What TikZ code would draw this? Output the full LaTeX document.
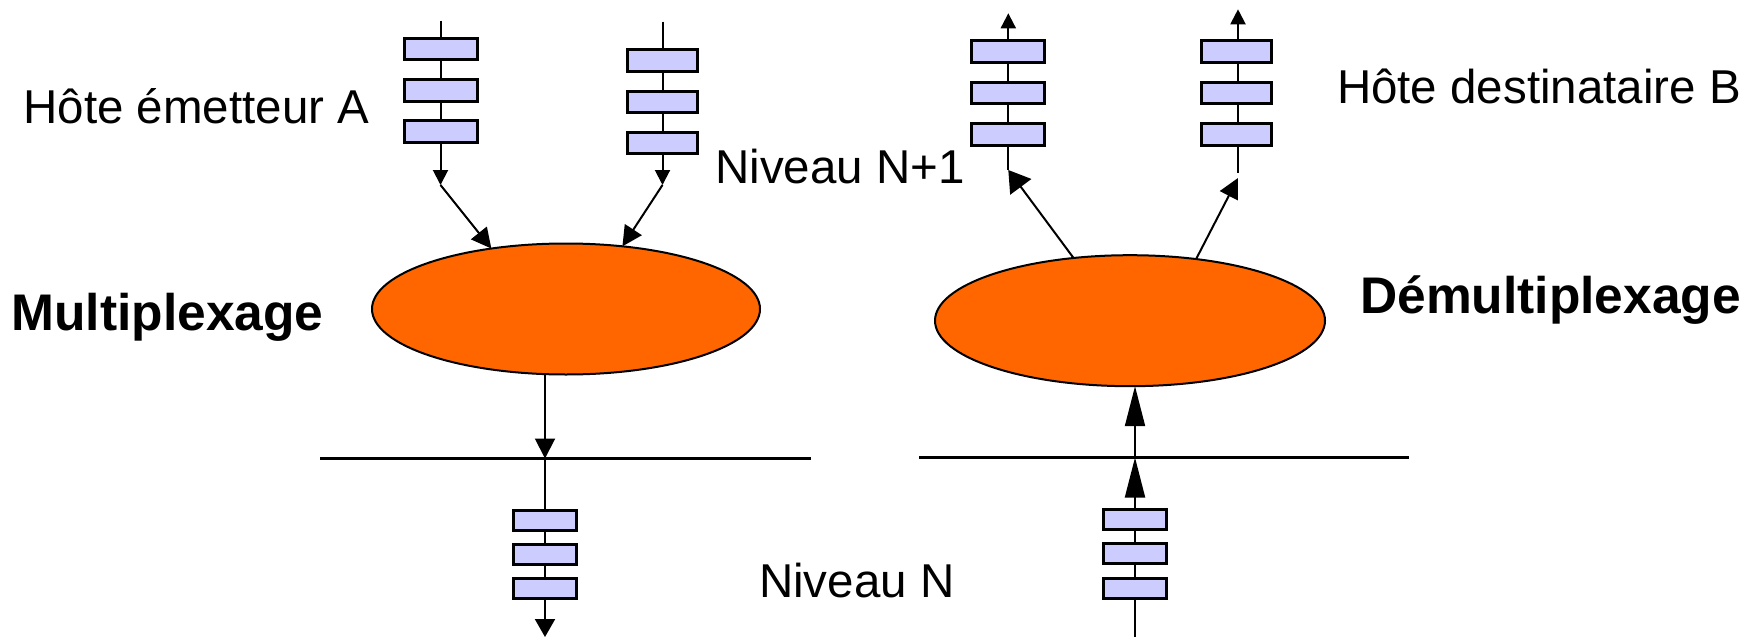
\documentclass[tikz,border=0pt]{standalone}
\usepackage{fontspec}
\setmainfont{Liberation Sans}
\usetikzlibrary{arrows.meta,shapes.geometric}
\definecolor{pktfill}{HTML}{CCCCFF}
\definecolor{blobfill}{HTML}{FF6600}
\begin{document}
\begin{tikzpicture}[x=1pt,y=-1pt,
  pkt/.style={draw,line width=3pt,fill=pktfill,inner sep=0pt,outer sep=0pt,
              minimum width=73pt,minimum height=21.5pt},
  pktn/.style={pkt,minimum width=70.5pt},
  pkts/.style={pkt,minimum width=62.5pt,minimum height=20pt},
  blob/.style={ellipse,draw,line width=2pt,fill=blobfill,inner sep=0pt,outer sep=0pt},
  wire/.style={line width=2pt},
  tipS/.style={-{Triangle[length=15pt,width=15pt]}},
  tipM/.style={-{Triangle[length=20pt,width=20pt]}},
  tipW/.style={-{Triangle[length=21pt,width=26pt]}},
  tipL/.style={-{Triangle[length=40pt,width=20pt]}},
  lbl/.style={inner sep=0pt,anchor=base,font=\fontsize{47.5}{52}\selectfont},
  ttl/.style={inner sep=0pt,anchor=base,font=\fontsize{51.5}{56}\selectfont\bfseries},
  level/.style={line width=3pt}
]
\useasboundingbox (0,0) rectangle (1756,637);

% multiplexing and demultiplexing entities
\node[blob,minimum width=388pt,minimum height=131pt] (mux) at (566,309) {};
\node[blob,minimum width=390pt,minimum height=131pt] (demux) at (1130,320.7) {};

% layer boundaries
\coordinate (nl1) at (320,458.5);
\coordinate (nl2) at (811,458.5);
\coordinate (nr1) at (919,457.5);
\coordinate (nr2) at (1409,457.5);
\draw[level] (nl1) -- (nl2);
\draw[level] (nr1) -- (nr2);

% sender A, first flow
\coordinate (a1top) at (440.5,20.7);
\node[pkt] (a1p1) at (440.5,49.2) {};
\node[pkt] (a1p2) at (440.5,90.4) {};
\node[pkt] (a1p3) at (440.5,131.7) {};
\coordinate (a1k) at (440.5,185);
\draw[wire] (a1top) -- (a1p1) -- (a1p2) -- (a1p3);
\draw[wire,tipS] (a1p3) -- (a1k);
\draw[wire,tipM] (a1k) -- (mux.141);

% sender A, second flow
\coordinate (a2top) at (662.5,21.7);
\node[pktn] (a2p1) at (662.5,60.5) {};
\node[pktn] (a2p2) at (662.5,102) {};
\node[pktn] (a2p3) at (662.5,143) {};
\coordinate (a2k) at (662.5,185);
\draw[wire] (a2top) -- (a2p1) -- (a2p2) -- (a2p3);
\draw[wire,tipS] (a2p3) -- (a2k);
\draw[wire,tipM] (a2k) -- (mux.48);

% multiplexed flow, level N
\coordinate (mk) at (545,458.5);
\node[pkts] (bl1) at (545,520.3) {};
\node[pkts] (bl2) at (545,554.8) {};
\node[pkts] (bl3) at (545,588.8) {};
\coordinate (mbot) at (545,637);
\draw[wire,tipM] (mux.south -| mk) -- (mk);
\draw[wire] (mk) -- (bl1) -- (bl2) -- (bl3);
\draw[wire,-{Triangle[length=18pt,width=20pt]}] (bl3) -- (mbot);

% incoming flow at receiver, level N
\coordinate (dk) at (1135,457.5);
\node[pkts] (br1) at (1135,519) {};
\node[pkts] (br2) at (1135,553.8) {};
\node[pkts] (br3) at (1135,588) {};
\coordinate (dbot) at (1135,637);
\draw[wire] (dbot) -- (br3) -- (br2) -- (br1);
\draw[wire,tipL] (br1) -- (dk);
\draw[wire,tipL] (dk) -- (demux.south -| dk);

% receiver B, first flow
\coordinate (b1top) at (1008.3,13.3);
\node[pkt] (b1p1) at (1008.3,51.4) {};
\node[pkt] (b1p2) at (1008.3,93) {};
\node[pkt] (b1p3) at (1008.3,134.5) {};
\coordinate (b1k) at (1008.3,170);
\draw[wire,tipS] (b1p1) -- (b1top);
\draw[wire] (b1p3) -- (b1p2) -- (b1p1);
\draw[wire] (b1p3) -- (b1k);
\draw[wire,tipW] (demux.132) -- (b1k);

% receiver B, second flow
\coordinate (b2top) at (1238,9.3);
\node[pktn] (b2p1) at (1236.5,51.4) {};
\node[pktn] (b2p2) at (1236.5,93) {};
\node[pktn] (b2p3) at (1236.5,134.5) {};
\coordinate (b2end) at (1238,173);
\coordinate (b2k) at (1238,178);
\draw[wire,tipS] (b2p1.north -| b2top) -- (b2top);
\draw[wire] (b2p1.south -| b2top) -- (b2p2.north -| b2top);
\draw[wire] (b2p2.south -| b2top) -- (b2p3.north -| b2top);
\draw[wire] (b2p3.south -| b2top) -- (b2end);
\draw[wire,tipM] (demux.43) -- (b2k);

% labels
\node[lbl] (hosta) at (196.3,123.3) {Hôte émetteur A};
\node[ttl] (mlabel) at (167.5,330) {Multiplexage};
\node[lbl] (hostb) at (1539,103) {Hôte destinataire B};
\node[ttl] (dlabel) at (1550.5,313) {Démultiplexage};
\node[lbl] (lvl1) at (840,183.3) {Niveau N+1};
\node[lbl] (lvl0) at (856.7,597.7) {Niveau N};
\end{tikzpicture}
\end{document}
